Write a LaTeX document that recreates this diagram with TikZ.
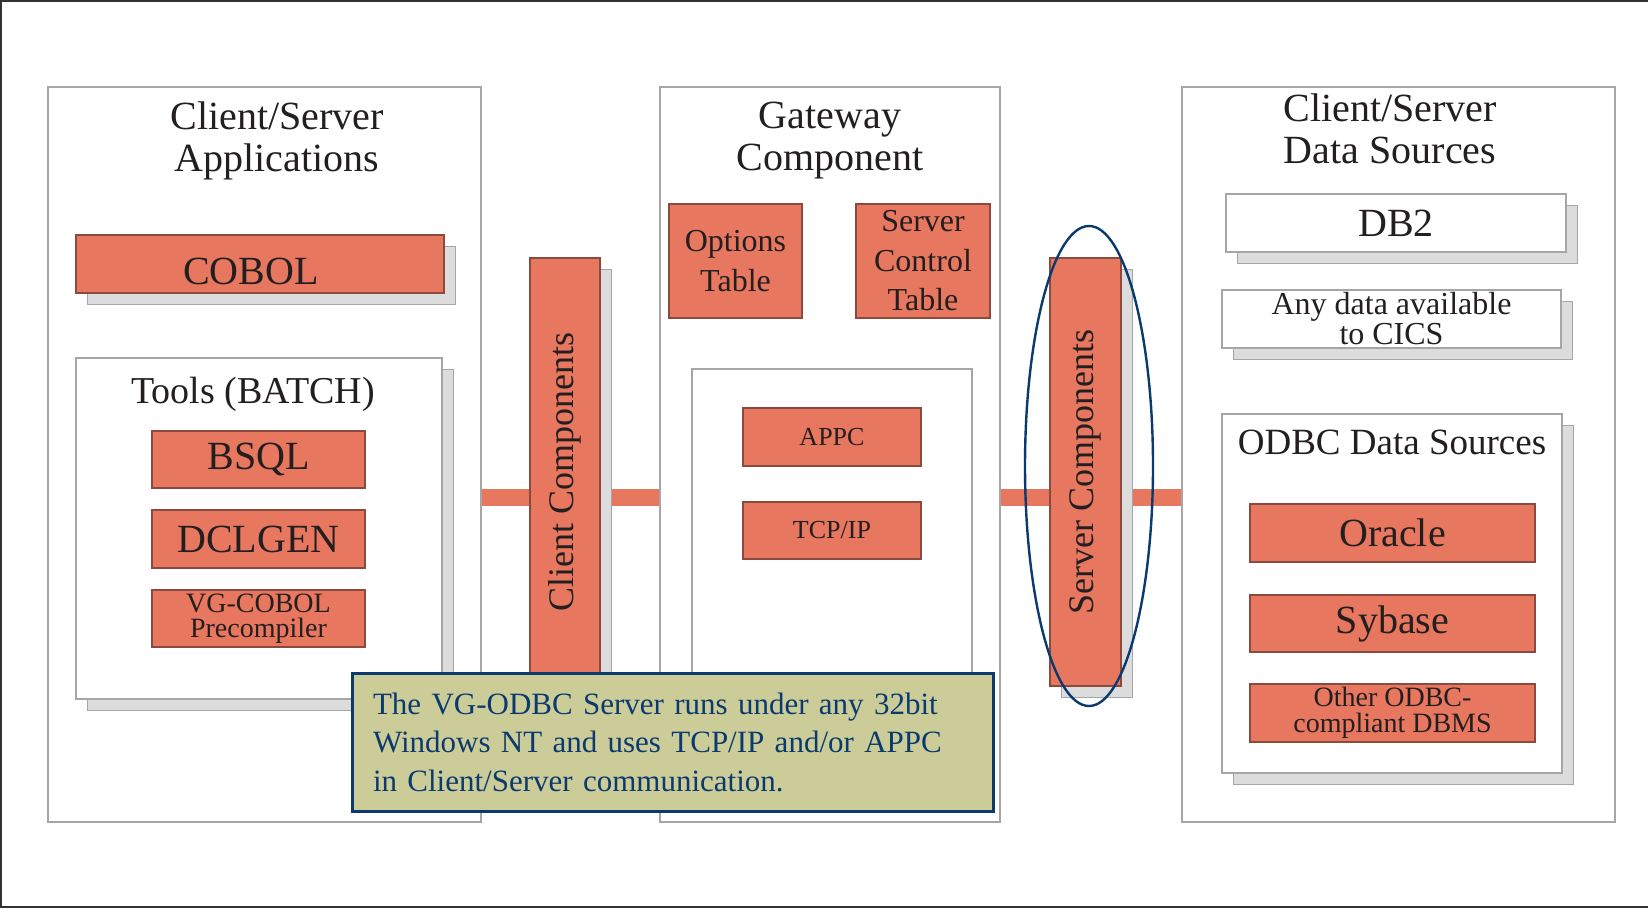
\documentclass[tikz,border=0pt]{standalone}
\usepackage{fontspec}
\setmainfont{Liberation Serif}
\usetikzlibrary{shapes.geometric,shadows,backgrounds}

\definecolor{boxred}{HTML}{E87760}
\definecolor{boxredline}{HTML}{8C4A3E}
\definecolor{frameline}{HTML}{A6A6A6}
\definecolor{shadowfill}{HTML}{DCDCDC}
\definecolor{notefill}{HTML}{CCCC99}
\definecolor{noteblue}{HTML}{0B3A6E}
\definecolor{inktext}{HTML}{231F20}

\tikzset{
  fs/.style 2 args={font=\fontsize{#1}{#2}\selectfont},
  panel/.style={draw=frameline, fill=white, line width=0.75pt, inner sep=0pt},
  shade/.style={drop shadow={shadow xshift=5.75pt, shadow yshift=-5.75pt,
      fill=shadowfill, draw=frameline, opacity=1}},
  redbox/.style={draw=boxredline, fill=boxred, line width=0.6pt, inner sep=0pt,
      align=center, text=inktext},
  whitebox/.style={panel, align=center, text=inktext},
  title/.style={align=center, text=inktext, inner sep=0pt},
  bus/.style={draw=boxred, line width=8.5pt},
}

\begin{document}
\begin{tikzpicture}[x=0.5pt, y=-0.5pt]
  \useasboundingbox (0,0) rectangle (1648,909);
  % outer frame
  \draw[line width=1pt, black!80] (1,1) rectangle (1660,907);

  % client side
  \node[panel, minimum width=216.5pt, minimum height=367.5pt] (apps) at (264.5,454.5) {};
  \node[title, fs={20}{21}] (appstitle) at (277,141) {Client/Server\\Applications};
  \node[redbox, shade, fs={20}{24}, text height=20.5pt, minimum width=184pt, minimum height=29pt] (cobol) at (260,264) {\hspace*{-9pt}COBOL};
  \node[panel, shade, minimum width=183pt, minimum height=170.5pt] (tools) at (259,528.5) {};
  \node[title, fs={19}{21}] (toolstitle) at (253,394.5) {Tools (BATCH)};
  \node[redbox, fs={20}{24}, minimum width=106.5pt, minimum height=28.5pt] (bsql) at (258.5,459.5) {BSQL};
  \node[redbox, fs={20}{24}, minimum width=106.5pt, minimum height=29pt] (dclgen) at (258.5,539) {DCLGEN};
  \node[redbox, fs={14}{12.5}, minimum width=106.5pt, minimum height=28.5pt] (precomp) at (258.5,618.5) {VG-COBOL\\Precompiler};

  \node[redbox, shade, fs={18}{20}, minimum width=35pt, minimum height=214pt] (clibar) at (565,472) {\rotatebox{90}{Client Components}};

  % gateway
  \node[panel, minimum width=170pt, minimum height=367.5pt] (gateway) at (830,454.5) {};
  \node[title, fs={20}{21}] (gwtitle) at (830,141) {Gateway\\Component};
  \node[redbox, fs={16}{20}, minimum width=66.5pt, minimum height=57pt] (options) at (735.5,261) {Options\\Table};
  \node[redbox, fs={16}{19.75}, minimum width=67pt, minimum height=57pt] (sctable) at (923,261) {Server\\Control\\Table};
  \node[panel, minimum width=140pt, minimum height=165.5pt] (proto) at (832,534.5) {};
  \node[redbox, fs={13}{15}, minimum width=89pt, minimum height=29pt] (appc) at (832,437) {APPC};
  \node[redbox, fs={13}{15}, minimum width=89pt, minimum height=28.5pt] (tcpip) at (832,530.5) {TCP/IP};

  \node[redbox, shade, fs={18}{20}, minimum width=35.5pt, minimum height=214pt] (srvbar) at (1085.5,472) {\rotatebox{90}{Server Components}};

  % data sources
  \node[panel, minimum width=216.5pt, minimum height=367.5pt] (srcs) at (1398.5,454.5) {};
  \node[title, fs={20}{21}] (srctitle) at (1390,129) {Client/Server\\Data Sources};
  \node[whitebox, shade, fs={20}{24}, minimum width=170pt, minimum height=29pt] (db2) at (1396,223) {DB2};
  \node[whitebox, shade, fs={16}{14}, minimum width=169.5pt, minimum height=29pt] (cics) at (1391.5,319) {Any data available\\to CICS};
  \node[panel, shade, minimum width=170pt, minimum height=179.5pt] (odbc) at (1392,593.5) {};
  \node[title, fs={18.5}{21}] (odbctitle) at (1392,442.5) {ODBC Data Sources};
  \node[redbox, fs={20}{24}, minimum width=142.5pt, minimum height=29pt] (oracle) at (1392.5,533) {Oracle};
  \node[redbox, fs={20}{24}, minimum width=142.5pt, minimum height=28.5pt] (sybase) at (1392.5,623.5) {Sybase};
  \node[redbox, fs={14}{13}, minimum width=142.5pt, minimum height=29pt] (otherdb) at (1392.5,713) {Other ODBC-\\compliant DBMS};

  % links between the columns
  \coordinate (bus) at (0,497.5);
  \begin{scope}[on background layer]
    \draw[bus] (apps.east |- bus) -- (gateway.west |- bus);
    \draw[bus] (gateway.east |- bus) -- (srcs.west |- bus);
  \end{scope}

  % highlight and note
  \node[draw=noteblue, line width=1.2pt, ellipse, minimum width=64pt, minimum height=240pt, inner sep=0pt] (ring) at (1089,466) {};
  \node[draw=noteblue, fill=notefill, line width=1.5pt, text=noteblue, fs={15.5}{19.25},
        minimum width=320.5pt, minimum height=69pt, text width=299.5pt, align=left,
        inner xsep=10.5pt, inner ysep=0pt] (note) at (672.5,742)
        {The VG-ODBC Server runs under any 32bit\\Windows NT and uses TCP/IP and/or APPC\\in Client/Server communication.};
\end{tikzpicture}
\end{document}
